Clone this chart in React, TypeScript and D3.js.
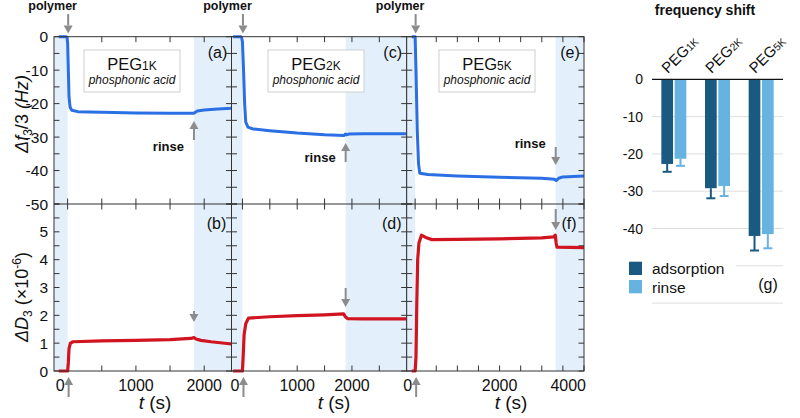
import React from 'react';
import * as d3 from 'd3';

const FONT = "'Liberation Sans', Arial, Helvetica, sans-serif";

// ---- time-series data [t (s), value] ----
const freq1K: [number, number][] = [
  [-130, 0], [-20, 0], [-8, -0.4], [0, -2], [10, -10], [20, -18], [35, -21], [60, -22], [150, -22.4],
  [500, -22.6], [1000, -22.8], [1500, -22.9], [1840, -22.9], [1870, -22.6], [1900, -22.2],
  [2000, -21.9], [2200, -21.6], [2400, -21.4],
];
const diss1K: [number, number][] = [
  [-130, 0], [0, 0], [10, 0.3], [20, 0.8], [40, 1.0], [80, 1.05], [500, 1.08], [1000, 1.1],
  [1500, 1.13], [1800, 1.17], [1850, 1.2], [1880, 1.15], [1950, 1.1], [2100, 1.05], [2400, 0.97],
];
const freq2K: [number, number][] = [
  [-170, 0], [-30, 0], [-15, -0.3], [0, -1.5], [20, -10], [40, -20], [60, -25.5], [100, -27],
  [200, -27.6], [500, -28.1], [1000, -28.8], [1500, -29.3], [1860, -29.5], [1880, -29.1],
  [1900, -29.3], [1950, -29.1], [2200, -29.0], [3000, -29.0],
];
const diss2K: [number, number][] = [
  [-170, 0], [0, 0], [15, 0.6], [30, 1.3], [60, 1.7], [110, 1.9], [500, 1.95], [1000, 1.99],
  [1500, 2.02], [1850, 2.05], [1880, 1.95], [1920, 1.88], [2200, 1.87], [3000, 1.87],
];
const freq5K: [number, number][] = [
  [-80, 0], [0, 0], [20, -10], [50, -28], [80, -38], [110, -40.8], [300, -41.2], [1000, -41.6],
  [2000, -42.0], [3000, -42.3], [3300, -42.6], [3340, -43.0], [3400, -42.3], [3500, -41.9], [4000, -41.6],
];
const diss5K: [number, number][] = [
  [-80, 0], [0, 0], [20, 0.5], [40, 2.5], [60, 4.0], [90, 4.6], [150, 4.88], [250, 4.8], [400, 4.72],
  [1000, 4.73], [2000, 4.75], [3000, 4.78], [3280, 4.82], [3320, 4.88], [3340, 4.6], [3360, 4.45], [4000, 4.43],
];

const timeDomains = [[-200, 2400], [-200, 3000], [-200, 4000]];
const rinseTimes = [1850, 1885, 3330];
const timeTickLabels = [[0, 1000, 2000], [0, 1000, 2000], [0, 2000, 4000]];
const pegNames = ['1K', '2K', '5K'];
const topLetters = ['(a)', '(c)', '(e)'];
const botLetters = ['(b)', '(d)', '(f)'];
const freqTicks = [0, -10, -20, -30, -40, -50];
const dissTicks = [0, 1, 2, 3, 4, 5];

// ---- bar chart data ----
const barCategories = ['1K', '2K', '5K'];
const adsorption = [-22.7, -29.2, -42.0];
const adsorptionErr = [2.1, 2.7, 3.9];
const rinseVals = [-21.3, -28.6, -41.5];
const rinseErr = [1.9, 2.7, 3.8];
const barTicks = [0, -10, -20, -30, -40];
const barGrid = [-10, -20, -30, -40, -50, -60];

const BLUE = '#2b6fe4';
const RED = '#d01420';
const SHADE = '#e3f0fb';
const GRAY = '#8c8c8c';
const DARK = '#1b5a80';
const LIGHT = '#66b3e2';
const AXIS = '#333';

function Arrow({ x, y1, y2 }: { x: number; y1: number; y2: number }) {
  const dir = y2 > y1 ? 1 : -1;
  const head = 8;
  return (
    <g>
      <line x1={x} x2={x} y1={y1} y2={y2 - dir * head} stroke={GRAY} strokeWidth={2} />
      <path d={`M${x - 4.5},${y2 - dir * head} L${x + 4.5},${y2 - dir * head} L${x},${y2} Z`} fill={GRAY} />
    </g>
  );
}

export default function App() {
  const W = 800, H = 418;
  const topY = 36.7, midY = 204, botY = 371;
  const yTop = d3.scaleLinear().domain([-50, 0]).range([midY, topY]);
  const yBot = d3.scaleLinear().domain([0, 6]).range([botY, midY]);
  const panelX = [[54, 231.5], [231.5, 406.7], [406.7, 584]];
  const freqData = [freq1K, freq2K, freq5K];
  const dissData = [diss1K, diss2K, diss5K];

  const boxX = [84, 268, 439];
  const rinseLabelY = [150.5, 161.5, 147.5];
  const rinseTopArrow = [[140, 121], [162, 143], [147, 165]];
  const rinseBotArrow = [[311, 322], [288, 307], [209, 230]];
  const tTitleX = [155, 334, 511];

  const yBar = d3.scaleLinear().domain([-60, 0]).range([79.3 + 60 * 3.73, 79.3]);
  const xBand = d3.scaleBand<string>().domain(barCategories).range([652, 783]).paddingInner(0).paddingOuter(0);
  const xSub = d3.scaleBand<string>().domain(['ads', 'rin']).range([-12.5, 12.5]).paddingInner(0.12);

  return (
    <svg width={W} height={H} style={{ position: 'absolute', left: 0, top: 0, background: '#fff' }} fontFamily={FONT}>
      <rect x={0} y={0} width={W} height={H} fill="#fff" />
      {panelX.map((px, i) => {
        const xs = d3.scaleLinear().domain(timeDomains[i]).range(px);
        const lineTop = d3.line<[number, number]>().x(d => xs(d[0])).y(d => yTop(d[1]));
        const lineBot = d3.line<[number, number]>().x(d => xs(d[0])).y(d => yBot(d[1]));
        const [d0, d1] = timeDomains[i];
        const tTicks = d3.range(0, d1 + 1, 500);
        const x0 = xs(d0), x1 = xs(d1), xr = xs(rinseTimes[i]), xz = xs(0);
        const tl = 5.5;
        return (
          <g key={i}>
            <rect x={x0} y={topY} width={xz - x0} height={botY - topY} fill={SHADE} />
            <rect x={xr} y={topY} width={x1 - xr} height={botY - topY} fill={SHADE} />
            {d3.range(-50, 0.1, 5).map(v => (
              <g key={'yt' + v}>
                <line x1={x0} x2={x0 + tl} y1={yTop(v)} y2={yTop(v)} stroke={AXIS} />
                <line x1={x1} x2={x1 - tl} y1={yTop(v)} y2={yTop(v)} stroke={AXIS} />
              </g>
            ))}
            {d3.range(0, 6.01, 0.5).map(v => (
              <g key={'yb' + v}>
                <line x1={x0} x2={x0 + tl} y1={yBot(v)} y2={yBot(v)} stroke={AXIS} />
                <line x1={x1} x2={x1 - tl} y1={yBot(v)} y2={yBot(v)} stroke={AXIS} />
              </g>
            ))}
            {tTicks.map(t => (
              <g key={'xt' + t}>
                <line x1={xs(t)} x2={xs(t)} y1={topY} y2={topY + tl} stroke={AXIS} />
                <line x1={xs(t)} x2={xs(t)} y1={midY} y2={midY - tl} stroke={AXIS} />
                <line x1={xs(t)} x2={xs(t)} y1={midY} y2={midY + tl} stroke={AXIS} />
                <line x1={xs(t)} x2={xs(t)} y1={botY} y2={botY - tl} stroke={AXIS} />
              </g>
            ))}
            <path d={lineTop(freqData[i]) || ''} fill="none" stroke={BLUE} strokeWidth={3} strokeLinejoin="round" />
            <path d={lineBot(dissData[i]) || ''} fill="none" stroke={RED} strokeWidth={3.2} strokeLinejoin="round" />
            <rect x={x0} y={topY} width={x1 - x0} height={botY - topY} fill="none" stroke={AXIS} strokeWidth={1} />
            <line x1={x0} x2={x1} y1={midY} y2={midY} stroke={AXIS} strokeWidth={1} />
            <rect x={boxX[i]} y={50} width={96} height={42} fill="#fff" stroke="#cfcfcf" strokeWidth={1} />
            <text x={boxX[i] + 48} y={70} textAnchor="middle" fontSize={16.5} fill="#111">
              PEG<tspan fontSize={12}>{pegNames[i]}</tspan>
            </text>
            <text x={boxX[i] + 48} y={84.3} textAnchor="middle" fontSize={12} fontStyle="italic" fill="#111">
              phosphonic acid
            </text>
            <text x={x1 - 14} y={57.5} textAnchor="middle" fontSize={16} fill="#111">{topLetters[i]}</text>
            <text x={x1 - 15} y={229} textAnchor="middle" fontSize={16} fill="#111">{botLetters[i]}</text>
            {timeTickLabels[i].map(t => (
              <text key={'tl' + t} x={t === 0 ? xs(t) - 3 : (t === d1 ? x1 + 2 : xs(t))} y={391}
                textAnchor={t === 0 || t === d1 ? 'end' : 'middle'} fontSize={16} fill="#111">{t}</text>
            ))}
            <text x={tTitleX[i]} y={409} textAnchor="middle" fontSize={19} fill="#111">
              <tspan fontStyle="italic">t</tspan> (s)
            </text>
            <text x={xz - 15} y={10} textAnchor="middle" fontSize={12.5} fontWeight="bold" fill="#111">polymer</text>
            <Arrow x={xz + 0.5} y1={14} y2={33.5} />
            <Arrow x={xz + 1} y1={397} y2={377} />
            <text x={xr - 10} y={rinseLabelY[i]} textAnchor="end" fontSize={13} fontWeight="bold" fill="#111">rinse</text>
            <Arrow x={xr} y1={rinseTopArrow[i][0]} y2={rinseTopArrow[i][1]} />
            <Arrow x={xr} y1={rinseBotArrow[i][0]} y2={rinseBotArrow[i][1]} />
          </g>
        );
      })}
      {freqTicks.map(v => (
        <text key={'ft' + v} x={48} y={yTop(v) + 5.5} textAnchor="end" fontSize={15.5} fill="#111">{v}</text>
      ))}
      {dissTicks.map(v => (
        <text key={'dt' + v} x={48} y={yBot(v) + 5.5} textAnchor="end" fontSize={15.5} fill="#111">{v}</text>
      ))}
      <text transform={`translate(28,114) rotate(-90)`} textAnchor="middle" fontSize={18} fill="#111">
        <tspan fontStyle="italic">Δf</tspan><tspan fontSize={12} dy={4}>3</tspan><tspan dy={-4}>/3 </tspan><tspan fontStyle="italic">(Hz)</tspan>
      </text>
      <text transform={`translate(28,297) rotate(-90)`} textAnchor="middle" fontSize={18} fill="#111">
        <tspan fontStyle="italic">ΔD</tspan><tspan fontSize={12} dy={4}>3</tspan><tspan dy={-4}> (×10</tspan><tspan fontSize={12} dy={-7}>-6</tspan><tspan dy={7}>)</tspan>
      </text>

      <text x={705} y={15} textAnchor="middle" fontSize={14} fontWeight="bold" fill="#111">frequency shift</text>
      {barGrid.map(v => (
        <line key={'g' + v} x1={652} x2={783} y1={yBar(v)} y2={yBar(v)} stroke="#dedede" strokeWidth={1} />
      ))}
      {barTicks.map(v => (
        <text key={'bt' + v} x={643} y={yBar(v) + 5} textAnchor="end" fontSize={14} fill="#111">{v}</text>
      ))}
      {barCategories.map((c, i) => {
        const cx = (xBand(c) as number) + xBand.bandwidth() / 2;
        const bw = xSub.bandwidth();
        const xa = cx + (xSub('ads') as number);
        const xr = cx + (xSub('rin') as number);
        return (
          <g key={c}>
            <rect x={xa} y={yBar(0)} width={bw} height={yBar(adsorption[i]) - yBar(0)} fill={DARK} />
            <rect x={xr} y={yBar(0)} width={bw} height={yBar(rinseVals[i]) - yBar(0)} fill={LIGHT} />
            <line x1={xa + bw / 2} x2={xa + bw / 2} y1={yBar(adsorption[i])} y2={yBar(adsorption[i] - adsorptionErr[i])} stroke={DARK} strokeWidth={2} />
            <line x1={xa + bw / 2 - 4.5} x2={xa + bw / 2 + 4.5} y1={yBar(adsorption[i] - adsorptionErr[i])} y2={yBar(adsorption[i] - adsorptionErr[i])} stroke={DARK} strokeWidth={2} />
            <line x1={xr + bw / 2} x2={xr + bw / 2} y1={yBar(rinseVals[i])} y2={yBar(rinseVals[i] - rinseErr[i])} stroke={LIGHT} strokeWidth={2} />
            <line x1={xr + bw / 2 - 4.5} x2={xr + bw / 2 + 4.5} y1={yBar(rinseVals[i] - rinseErr[i])} y2={yBar(rinseVals[i] - rinseErr[i])} stroke={LIGHT} strokeWidth={2} />
            <text transform={`translate(${cx - 6},74) rotate(-45)`} fontSize={15} fill="#111">
              PEG<tspan fontSize={10.5}>{c}</tspan>
            </text>
          </g>
        );
      })}
      <line x1={652} x2={783} y1={yBar(0)} y2={yBar(0)} stroke="#111" strokeWidth={1.2} />
      <rect x={626} y={256} width={110} height={40} fill="#fff" />
      <rect x={629} y={261.7} width={13} height={13.3} fill={DARK} />
      <rect x={629} y={280} width={13} height={13.3} fill={LIGHT} />
      <text x={652} y={274.3} fontSize={15.5} fill="#111">adsorption</text>
      <text x={652} y={293} fontSize={15.5} fill="#111">rinse</text>
      <text x={768} y={289.5} textAnchor="middle" fontSize={16} fill="#111">(g)</text>
    </svg>
  );
}
